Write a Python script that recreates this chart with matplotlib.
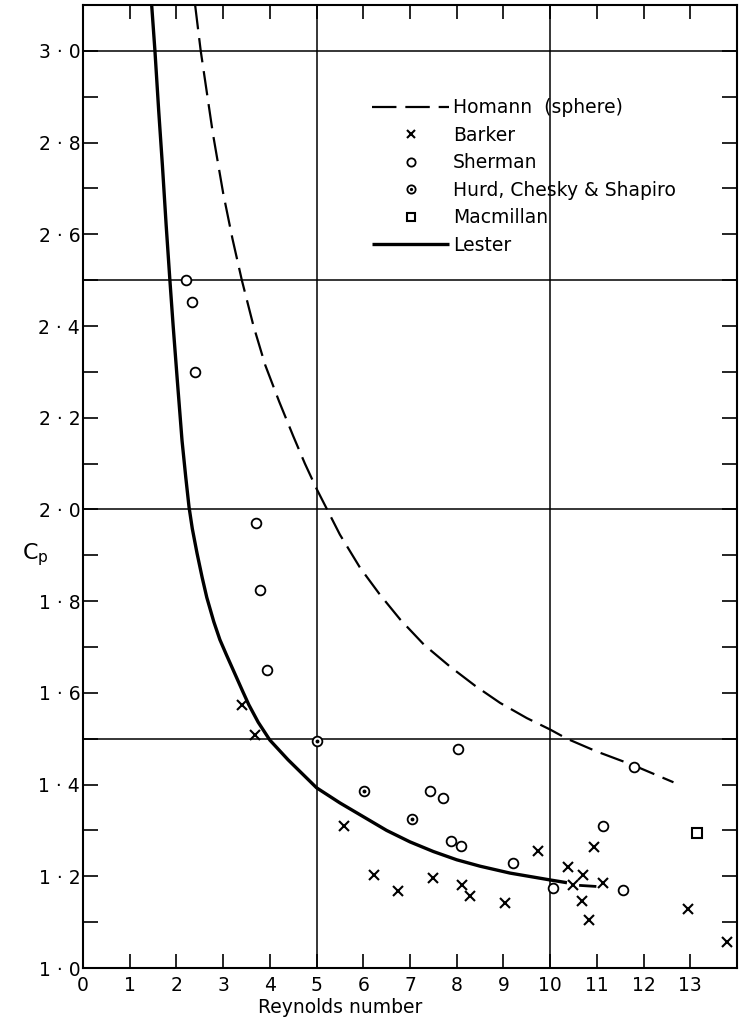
import matplotlib
matplotlib.use("Agg")
import matplotlib.pyplot as plt
from matplotlib.legend_handler import HandlerTuple

plt.rcParams['font.family'] = ['DejaVu Sans']
plt.rcParams['mathtext.default'] = 'regular'

# ---- data ----
homann_x = [2.40, 2.52, 2.78, 3.00, 3.20, 3.40, 3.65, 3.90, 4.20, 4.50, 4.75, 5.00, 5.50, 5.93, 6.35, 6.79, 7.30, 7.86, 8.40, 8.93, 9.50, 10.00, 10.36, 11.00, 11.76, 12.64]
homann_y = [3.10, 3.00, 2.82, 2.69, 2.59, 2.50, 2.40, 2.315, 2.235, 2.160, 2.100, 2.045, 1.945, 1.873, 1.815, 1.760, 1.705, 1.657, 1.615, 1.578, 1.545, 1.520, 1.500, 1.472, 1.443, 1.405]

lester_x = [1.47, 1.54, 1.62, 1.70, 1.78, 1.86, 1.93, 2.02, 2.12, 2.20, 2.27, 2.34, 2.44, 2.55, 2.65, 2.80, 2.93, 3.07, 3.21, 3.42, 3.55, 3.75, 4.00, 4.39, 5.00, 5.50, 6.00, 6.50, 7.00, 7.50, 8.00, 8.50, 9.14, 10.00, 10.36]
lester_y = [3.10, 3.00, 2.87, 2.75, 2.62, 2.50, 2.40, 2.28, 2.15, 2.07, 2.005, 1.958, 1.905, 1.852, 1.808, 1.755, 1.716, 1.683, 1.651, 1.603, 1.574, 1.536, 1.497, 1.454, 1.393, 1.360, 1.330, 1.300, 1.275, 1.254, 1.236, 1.222, 1.207, 1.192, 1.186]
lester_tail_x = [10.65, 10.96]
lester_tail_y = [1.180, 1.178]

barker_x = [3.40, 3.68, 5.59, 6.23, 6.74, 7.49, 8.12, 8.29, 9.03, 9.74, 10.38, 10.49, 10.71, 10.68, 10.84, 10.94, 11.14, 12.96, 13.79]
barker_y = [1.574, 1.509, 1.310, 1.203, 1.168, 1.196, 1.180, 1.156, 1.141, 1.256, 1.220, 1.181, 1.203, 1.146, 1.105, 1.264, 1.185, 1.128, 1.057]

sherman_x = [2.20, 2.34, 2.39, 3.70, 3.79, 3.93, 8.03, 7.43, 7.70, 7.88, 8.09, 9.20, 10.07, 11.14, 11.56, 11.80]
sherman_y = [2.500, 2.452, 2.300, 1.970, 1.825, 1.650, 1.478, 1.386, 1.371, 1.277, 1.265, 1.229, 1.175, 1.310, 1.170, 1.439]

hurd_x = [5.00, 6.01, 7.04]
hurd_y = [1.494, 1.385, 1.325]

macmillan_x = [13.15]
macmillan_y = [1.295]

grid_x = [5, 10]
grid_y = [1.5, 2.0, 2.5, 3.0]

xticks = list(range(0, 14))
xtick_labels = [str(v) for v in xticks]
yticks_major = [1.0, 1.2, 1.4, 1.6, 1.8, 2.0, 2.2, 2.4, 2.6, 2.8, 3.0]
ytick_labels = ['1 · 0', '1 · 2', '1 · 4', '1 · 6', '1 · 8', '2 · 0', '2 · 2', '2 · 4', '2 · 6', '2 · 8', '3 · 0']
yticks_minor = [1.1, 1.3, 1.5, 1.7, 1.9, 2.1, 2.3, 2.5, 2.7, 2.9]

legend_labels = ['Homann  (sphere)', 'Barker', 'Sherman', 'Hurd, Chesky & Shapiro', 'Macmillan', 'Lester']

# ---- figure ----
fig = plt.figure(figsize=(7.45, 10.21), dpi=100)
ax = fig.add_axes([83/745, 53/1021, (737-83)/745, (1016-53)/1021])
ax.set_xlim(0, 14.0)
ax.set_ylim(1.0, 3.1)

for gx in grid_x:
    ax.axvline(gx, color='black', lw=1.1, zorder=1)
for gy in grid_y:
    ax.axhline(gy, color='black', lw=1.1, zorder=1)

h_hom, = ax.plot(homann_x, homann_y, color='black', lw=1.6, dashes=(11, 4), zorder=3)
h_les, = ax.plot(lester_x, lester_y, color='black', lw=2.4, zorder=3, solid_capstyle='butt',
                 solid_joinstyle='round')
ax.plot(lester_tail_x, lester_tail_y, color='black', lw=2.0, zorder=3)

h_bar, = ax.plot(barker_x, barker_y, ls='none', marker='x', ms=6.5, mew=1.5, color='black', zorder=4)
h_she, = ax.plot(sherman_x, sherman_y, ls='none', marker='o', ms=7, mew=1.3, mfc='white', mec='black', zorder=4)
h_hur1, = ax.plot(hurd_x, hurd_y, ls='none', marker='o', ms=7, mew=1.3, mfc='white', mec='black', zorder=4)
h_hur2, = ax.plot(hurd_x, hurd_y, ls='none', marker='o', ms=2.8, mew=0, color='black', zorder=5)
h_mac, = ax.plot(macmillan_x, macmillan_y, ls='none', marker='s', ms=6.5, mew=1.5, mfc='white', mec='black', zorder=4)

for s in ax.spines.values():
    s.set_linewidth(1.5)

ax.set_xticks(xticks)
ax.set_xticklabels(xtick_labels)
ax.set_yticks(yticks_major)
ax.set_yticklabels(ytick_labels)
ax.set_yticks(yticks_minor, minor=True)
ax.tick_params(axis='x', which='major', direction='in', top=True, length=10, width=1.2,
               labelsize=13.5, pad=6)
ax.tick_params(axis='y', which='both', direction='in', right=True, length=11, width=1.2,
               labelsize=13.5, pad=2)

leg = ax.legend([h_hom, h_bar, h_she, (h_hur1, h_hur2), h_mac, h_les], legend_labels,
                handler_map={tuple: HandlerTuple(ndivide=1, pad=0)},
                loc='upper left', bbox_to_anchor=(0.442, 0.903), frameon=False,
                fontsize=13.5, handlelength=4.1, handletextpad=0.2, labelspacing=0.45,
                borderpad=0, borderaxespad=0, markerscale=0.85)

fig.text(35/745, 1 - 555/1021, '$C_p$', fontsize=16, ha='center', va='center')
fig.text(340/745, 1 - 1007/1021, 'Reynolds number', fontsize=13.5, ha='center', va='center')

fig.savefig('out.png', dpi=100)
